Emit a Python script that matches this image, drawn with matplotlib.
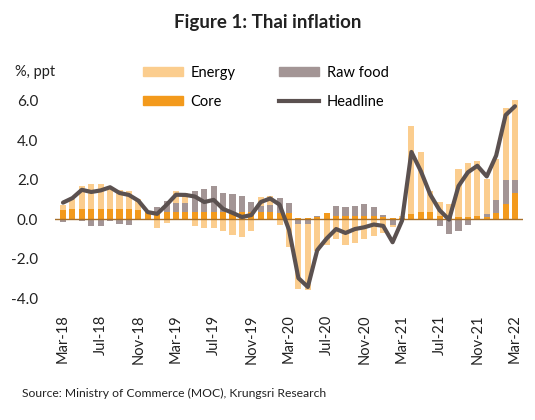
import matplotlib
matplotlib.use("Agg")
import matplotlib.pyplot as plt
import numpy as np
from matplotlib.patches import Patch
from matplotlib.lines import Line2D

plt.rcParams['font.family'] = ['Lato', 'DejaVu Sans']

# monthly, Mar-18 .. Mar-22 (contributions, ppt; headline, %YoY)
months = ['Mar-18', 'Apr-18', 'May-18', 'Jun-18', 'Jul-18', 'Aug-18', 'Sep-18', 'Oct-18', 'Nov-18', 'Dec-18',
          'Jan-19', 'Feb-19', 'Mar-19', 'Apr-19', 'May-19', 'Jun-19', 'Jul-19', 'Aug-19', 'Sep-19', 'Oct-19',
          'Nov-19', 'Dec-19', 'Jan-20', 'Feb-20', 'Mar-20', 'Apr-20', 'May-20', 'Jun-20', 'Jul-20', 'Aug-20',
          'Sep-20', 'Oct-20', 'Nov-20', 'Dec-20', 'Jan-21', 'Feb-21', 'Mar-21', 'Apr-21', 'May-21', 'Jun-21',
          'Jul-21', 'Aug-21', 'Sep-21', 'Oct-21', 'Nov-21', 'Dec-21', 'Jan-22', 'Feb-22', 'Mar-22']

core = [0.45, 0.50, 0.50, 0.50, 0.50, 0.50, 0.50, 0.50, 0.45, 0.35,
        0.30, 0.35, 0.35, 0.35, 0.35, 0.35, 0.35, 0.35, 0.35, 0.35,
        0.35, 0.35, 0.35, 0.30, 0.30, 0.05, 0.05, 0.10, 0.30, 0.15,
        0.15, 0.15, 0.15, 0.15, 0.10, 0.05, 0.05, 0.25, 0.35, 0.35,
        0.15, 0.10, 0.12, 0.12, 0.17, 0.10, 0.30, 0.77, 1.35]

raw_food = [-0.15, -0.05, -0.10, -0.35, -0.35, -0.10, -0.25, -0.30, -0.05, 0.00,
            0.30, 0.55, 0.45, 0.45, 1.10, 1.20, 1.35, 1.00, 0.95, 0.85,
            0.50, 0.30, 0.35, 0.75, 0.50, -0.25, -0.25, 0.05, 0.00, 0.50,
            0.45, 0.50, 0.60, 0.45, 0.10, -0.30, -0.05, 0.00, -0.05, -0.05,
            -0.35, -0.77, -0.60, -0.30, -0.05, 0.15, 0.65, 1.20, 0.65]

energy = [0.25, 0.50, 1.20, 1.30, 1.30, 1.05, 1.00, 0.95, 0.55, 0.05,
          -0.43, -0.20, 0.65, 0.55, -0.35, -0.45, -0.45, -0.60, -0.80, -0.90,
          -0.60, 0.45, 0.50, -0.30, -1.40, -3.30, -3.35, -1.60, -1.30, -1.00,
          -1.30, -1.20, -1.00, -0.85, -0.70, -0.10, 0.10, 4.50, 3.05, 1.10,
          0.70, 0.67, 2.45, 2.75, 2.80, 1.80, 2.10, 3.65, 4.05]

headline = [0.84, 1.07, 1.49, 1.38, 1.46, 1.62, 1.33, 1.23, 0.94, 0.36,
            0.27, 0.73, 1.24, 1.23, 1.15, 0.87, 0.98, 0.52, 0.32, 0.11,
            0.21, 0.87, 1.05, 0.74, -0.54, -2.99, -3.44, -1.57, -0.98, -0.50,
            -0.70, -0.50, -0.41, -0.27, -0.34, -1.17, -0.08, 3.41, 2.44, 1.25,
            0.45, -0.02, 1.68, 2.38, 2.71, 2.17, 3.23, 5.28, 5.73]

c_core = '#f39a1c'
c_raw = '#a39595'
c_energy = '#fbcd8e'
c_head = '#5b5150'

x = np.arange(len(months))
core = np.array(core)
raw_food = np.array(raw_food)
energy = np.array(energy)

# stack positives upward, negatives downward, in series order
pos_base = np.zeros(len(x))
neg_base = np.zeros(len(x))
fig = plt.figure(figsize=(5.35, 4.2), dpi=100)
ax = fig.add_axes([55 / 535, (420 - 298) / 420, (523 - 55) / 535, (298 - 97) / 420])

for vals, col in [(core, c_core), (raw_food, c_raw), (energy, c_energy)]:
    base = np.where(vals >= 0, pos_base, neg_base)
    ax.bar(x, vals, bottom=base, width=0.65, color=col, linewidth=0, zorder=2)
    pos_base = pos_base + np.where(vals >= 0, vals, 0)
    neg_base = neg_base + np.where(vals < 0, vals, 0)

ax.axhline(0, color='#a8702a', lw=1, zorder=3)
ax.plot(x, headline, color=c_head, lw=3, zorder=4, solid_capstyle='round')

ax.set_xlim(-0.85, 48.85)
ax.set_ylim(-4, 6.2)
ax.set_yticks([-4, -2, 0, 2, 4, 6])
ax.set_yticklabels(['-4.0', '-2.0', '0.0', '2.0', '4.0', '6.0'], fontsize=11)
ax.set_xticks(x[::4])
ax.set_xticklabels(months[::4], rotation=90, fontsize=10.5)
ax.tick_params(axis='both', length=0, colors='#222222')
ax.tick_params(axis='x', pad=12)
ax.tick_params(axis='y', pad=12)
for s in ax.spines.values():
    s.set_visible(False)

fig.text(0.5, 0.947, 'Figure 1: Thai inflation', ha='center', va='center',
         fontsize=13.5, fontweight='bold', color='#222222')
fig.text(15 / 535, 1 - 72 / 420, '%, ppt', ha='left', va='center', fontsize=10.5, color='#222222')

# matplotlib fills legend column by column
handles = [Patch(color=c_energy), Patch(color=c_core), Patch(color=c_raw),
           Line2D([0], [0], color=c_head, lw=3)]
labels = ['Energy', 'Core', 'Raw food', 'Headline']
fig.legend(handles, labels, ncol=2, loc='upper left', bbox_to_anchor=(143 / 535, 1 - 66 / 420),
           frameon=False, fontsize=10.5, handlelength=2.75, handleheight=0.55,
           columnspacing=3.0, labelspacing=1.0, handletextpad=0.5,
           borderpad=0, borderaxespad=0)

fig.text(22 / 535, 1 - 393 / 420, 'Source: Ministry of Commerce (MOC), Krungsri Research',
         ha='left', va='center', fontsize=8.7, color='#222222')

fig.savefig('out.png', dpi=100)
